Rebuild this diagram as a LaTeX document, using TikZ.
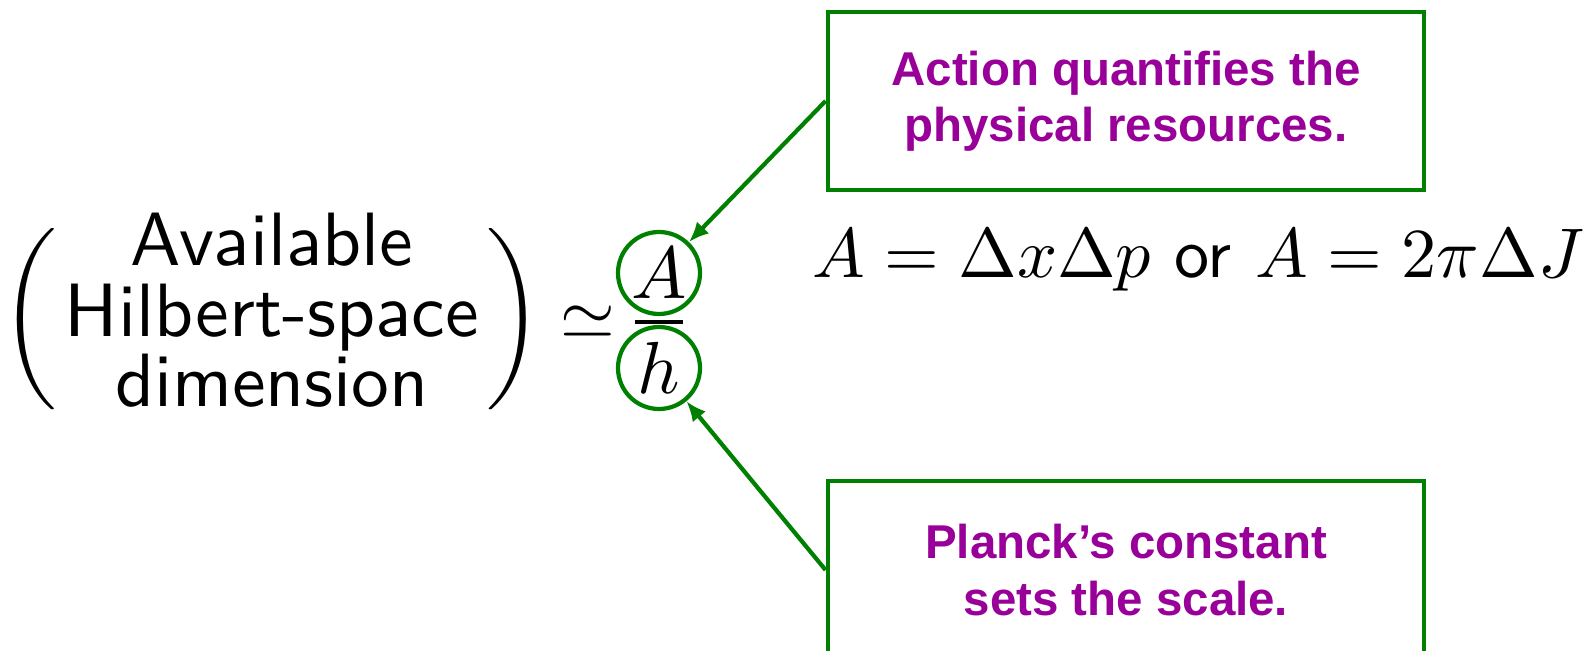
\RequirePackage{fix-cm}
\documentclass[tikz,border=0pt]{standalone}
\usepackage{graphicx}
\usepackage{fontspec}
\newfontfamily\calloutfont{Liberation Sans}
\usetikzlibrary{arrows.meta, positioning}
\definecolor{boxgreen}{RGB}{0,128,0}
\definecolor{notepurple}{RGB}{153,0,153}

\begin{document}
\begin{tikzpicture}[
    mag/.style={font=\fontsize{10}{8}\selectfont, inner sep=0pt},
    callout/.style={rectangle, draw=boxgreen, line width=2.8pt, minimum width=11.92cm, minimum height=3.56cm, align=center, text=notepurple, font=\calloutfont\bfseries\fontsize{27}{32}\selectfont},
    ring/.style={circle, draw=boxgreen, line width=2.4pt, minimum size=1.64cm, inner sep=0pt},
    arrow/.style={-{Latex[length=4mm, width=3.4mm]}, boxgreen, line width=2.4pt},
]
\useasboundingbox (0,0) rectangle (31.72,13.02);
\node[mag] (dim) at (5.44,6.64) {\setlength{\tabcolsep}{1pt}\scalebox{4.3}{$\biggl(\begin{tabular}{c}\sffamily Available\\\sffamily Hilbert-space\\\sffamily dimension\end{tabular}\biggr)$}};
\node[mag] (sim) at (11.76,6.58) {\scalebox{4}{$\simeq$}};
\node[mag, ring] (num) at (13.18,7.56) {\scalebox{4.2}{$A$}};
\node[mag, ring] (den) at (13.18,5.66) {\scalebox{4.2}{$h$}};
\draw[line width=1.8pt] (12.7,6.58) -- (13.66,6.58); % fraction bar
\node[mag, anchor=base] (eq) at (23.96,7.47) {\scalebox{4}{$A=\Delta x\Delta p$ \textsf{or} $A=2\pi\Delta J$}};
\node[callout] (act) at (22.52,11.0) {Action quantifies the\\physical resources.};
\node[callout] (planck) at (22.52,1.62) {Planck’s constant\\sets the scale.};
\draw[arrow] (act.west) -- (num);
\draw[arrow] (planck.west) -- (den);
\end{tikzpicture}
\end{document}
